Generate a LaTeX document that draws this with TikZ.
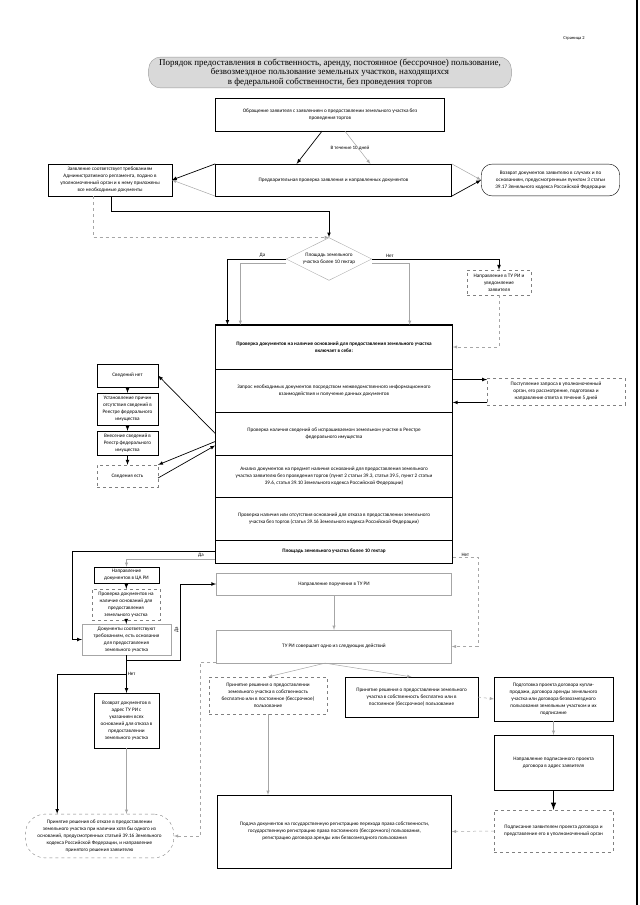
\documentclass[tikz,border=0pt]{standalone}
\usepackage{fontspec}
\setmainfont{Carlito}
\newfontfamily\titlefont{Liberation Serif}
\usetikzlibrary{shapes.geometric}

\begin{document}
\begin{tikzpicture}[x=1bp, y=-1bp,
		box/.style={draw, align=center, inner sep=1pt, font=\fontsize{5.2}{7}\selectfont},
		gbox/.style={box, draw=gray!70},
		dbox/.style={box, draw=gray, dashed},
		arr/.style={-latex, line width=.7pt},
		garr/.style={-latex, gray!70, line width=.5pt},
		lbl/.style={font=\fontsize{5}{6}\selectfont, inner sep=1pt, text=black}]
	\useasboundingbox (0,0) rectangle (640,905);
	\draw[line width=1.2pt] (637,0)--(637,905);
	\node[font=\fontsize{4.5}{5}\selectfont] (page) at (574,38) {Страница 2};
	\node[draw=gray!80, fill=gray!30, rounded corners=12, minimum width=364, minimum height=31, align=center, inner sep=1pt, font=\titlefont\fontsize{9}{9.3}\selectfont] (title) at (330,72.5) {Порядок предоставления в собственность, аренду, постоянное (бессрочное) пользование,\\безвозмездное пользование земельных участков, находящихся\\в федеральной собственности, без проведения торгов};
	% top
	\node[box, minimum width=230, minimum height=33] (appl) at (330,114.5) {Обращение заявителя с заявлением о предоставлении земельного участка без\\проведения торгов};
	\node[box, minimum width=237, minimum height=32] (prev) at (333.5,180) {Предварительная проверка заявления и направленных документов};
	\node[box, minimum width=124, minimum height=32] (ok) at (110,180) {Заявление соответствует требованиям\\Административного регламента, подано в\\уполномоченный орган и к нему приложены\\все необходимые документы};
	\node[box, rounded corners=11, minimum width=139, minimum height=32] (ret) at (550.5,180) {Возврат документов заявителю в случаях и по\\основаниям, предусмотренным пунктом 3 статьи\\39.17 Земельного кодекса Российской Федерации};
	\node[lbl] (days) at (350,148) {В течение 10 дней};
	\node[box, draw=gray!70, shape=diamond, aspect=2, minimum width=86, minimum height=43, inner sep=0pt] (area) at (329,259) {Площадь земельного\\участка более 10 гектар};
	\node[dbox, minimum width=64, minimum height=25] (tu) at (499,282.5) {Направление в ТУ РИ и\\уведомление\\заявителя};
	% check block
	\node[box, minimum width=238, minimum height=44, font=\bfseries\fontsize{5.2}{7}\selectfont] (g1) at (334,347) {Проверка документов на наличие оснований для предоставления земельного участка\\включает в себя:};
	\node[box, minimum width=238, minimum height=43] (g2) at (334,390.5) {Запрос необходимых документов посредством межведомственного информационного\\взаимодействия и получение данных документов};
	\node[box, minimum width=238, minimum height=43] (g3) at (334,433.5) {Проверка наличия сведений об испрашиваемом земельном участке в Реестре\\федерального имущества};
	\node[box, minimum width=238, minimum height=42] (g4) at (334,476) {Анализ документов на предмет наличия оснований для предоставления земельного\\участка заявителю без проведения торгов (пункт 2 статьи 39.3, статья 39.5, пункт 2 статьи\\39.6, статья 39.10 Земельного кодекса Российской Федерации)};
	\node[box, minimum width=238, minimum height=43] (g5) at (334,518.5) {Проверка наличия или отсутствия оснований для отказа в предоставлении земельного\\участка без торгов (статья 39.16 Земельного кодекса Российской Федерации)};
	\node[box, minimum width=238, minimum height=23, font=\bfseries\fontsize{5.2}{7}\selectfont] (g6) at (334,551.5) {Площадь земельного участка более 10 гектар};
	\draw[line width=1pt] (g1.north west) rectangle (g6.south east);
	\node[dbox, minimum width=138, minimum height=27] (req) at (556,391.5) {Поступление запроса в уполномоченный\\орган, его рассмотрение, подготовка и\\направление ответа в течение 5 дней};
	\node[box, minimum width=61, minimum height=23] (none) at (127.5,375.5) {Сведений нет};
	\node[box, minimum width=61, minimum height=32] (cause) at (127.5,409) {Установление причин\\отсутствия сведений в\\Реестре федерального\\имущества};
	\node[box, minimum width=61, minimum height=24] (enter) at (127.5,443) {Внесение сведений в\\Реестр федерального\\имущества};
	\node[dbox, minimum width=61, minimum height=22] (have) at (127.5,476) {Сведения есть};
	% lower left
	\node[box, minimum width=65, minimum height=16] (toca) at (126.5,575) {Направление\\документов в ЦА РИ};
	\node[dbox, minimum width=68, minimum height=31] (check) at (126,604.5) {Проверка документов на\\наличие оснований для\\предоставления\\земельного участка};
	\node[box, draw=gray!70, minimum width=89, minimum height=31] (fits) at (126.5,639.5) {Документы соответствуют\\требованиям, есть основания\\для предоставления\\земельного участка};
	\node[box, minimum width=65, minimum height=55] (back) at (126.5,720.5) {Возврат документов в\\адрес ТУ РИ с\\указанием всех\\оснований для отказа в\\предоставлении\\земельного участка};
	\node[dbox, rounded corners=20, minimum width=149, minimum height=44] (refuse) at (99.5,836) {Принятие решения об отказе в предоставлении\\земельного участка при наличии хотя бы одного из\\оснований, предусмотренных статьей 39.16 Земельного\\кодекса Российской Федерации, и направление\\принятого решения заявителю};
	% lower right
	\node[gbox, minimum width=236, minimum height=22] (order) at (334,584) {Направление поручения в ТУ РИ};
	\node[gbox, minimum width=236, minimum height=33] (acts) at (334,646.5) {ТУ РИ совершает одно из следующих действий};
	\node[dbox, minimum width=118, minimum height=37] (free1) at (268,695.5) {Принятие решения о предоставлении\\земельного участка в собственность\\бесплатно или в постоянное (бессрочное)\\пользование};
	\node[box, minimum width=133, minimum height=40] (free2) at (411.5,697) {Принятие решения о предоставлении земельного\\участка в собственность бесплатно или в\\постоянное (бессрочное) пользование};
	\node[box, minimum width=119, minimum height=44] (draft) at (553.5,699) {Подготовка проекта договора купли-\\продажи, договора аренды земельного\\участка или договора безвозмездного\\пользования земельным участком и их\\подписание};
	\node[box, minimum width=119, minimum height=55] (send) at (553.5,762.5) {Направление подписанного проекта\\договора в адрес заявителя};
	\node[dbox, minimum width=119, minimum height=42] (sign) at (553.5,831) {Подписание заявителем проекта договора и\\представление его в уполномоченный орган};
	\node[box, minimum width=235, minimum height=73] (reg) at (334.5,831.5) {Подача документов на государственную регистрацию перехода права собственности,\\государственную регистрацию права постоянного (бессрочного) пользования,\\регистрацию договора аренды или безвозмездного пользования};
	% connectors
	\draw[arr] ([xshift=-8]appl.south)--([xshift=-37]prev.north);
	\draw[garr] ([xshift=15]appl.south)--([xshift=37]prev.north);
	\draw[arr] (prev.north west)--(ok.east);
	\draw[garr] (prev.south west)--(ok.east);
	\draw[garr] (prev.north east)--(ret.west);
	\draw[arr] (prev.south east)--(ret.west);
	\draw[arr] ([xshift=1]ok.south)--++(0,15)-|(area.north);
	\draw[garr, dashed] ([xshift=-17]ok.south)|-(area.north);
	\draw[arr] (area.west)-|node[pos=.2, above, lbl]{Да}([xshift=-107]g1.north);
	\draw[garr] ([yshift=-4]area.west)-|([xshift=-94]g1.north);
	\draw[arr] (area.east)-|node[pos=.07, above, lbl]{Нет}(tu.north);
	\draw[garr] ([yshift=-4]area.east)-|([xshift=76]g1.north);
	\draw[garr, dashed] (tu.south)|-(g1.east);
	\draw[arr] ([yshift=11]g2.east)--([yshift=12]req.west);
	\draw[arr] ([yshift=-11]req.west)--([yshift=-12]g2.east);
	\draw[arr] (g3.west)--(none.east);
	\draw[arr] ([yshift=-8]g3.west)--(have.north east);
	\draw[arr] ([yshift=-2]have.east)--([yshift=-12]g3.west);
	\draw[arr] (none)--(cause);
	\draw[arr] (cause)--(enter);
	\draw[arr] (enter)--(have);
	\draw[arr] (g6.west)-|node[pos=.05, below, lbl]{Да}([xshift=-10]fits.west)--(fits.west);
	\draw[garr] ([yshift=-8]g6.west)-|(toca.north);
	\draw[arr] (toca)--(check);
	\draw[arr] (check)--(fits);
	\draw[arr] (fits.south)--++(0,5)--++(53.5,0)|-node[pos=.2, above, rotate=90, lbl]{Да}(order.west);
	\draw[arr] (fits.south)--node[pos=.5, right, lbl]{Нет}(back.north);
	\draw[arr] ([yshift=-19]fits.south)-|([xshift=-42.5]refuse.north);
	\draw[garr] (back.south)--(back.south|-refuse.north);
	\draw[garr, dashed] ([yshift=-6]g6.east)--node[above, lbl]{Нет}++(25,0)|-(acts.east);
	\draw[garr] (order.south)--(acts.north);
	\draw[garr, dashed] ([yshift=-16]acts.west)--++(-16,0)|-(refuse.east);
	\draw[garr] ([xshift=-9]acts.south)--(free1.north);
	\draw[garr] ([xshift=-9]acts.south)--(free2.north);
	\draw[garr, dashed] (free2.east)--(draft.west);
	\draw[garr] (draft.south)--(send.north);
	\draw[arr, line width=1.5pt] (send.south)--(sign.north);
	\draw[garr, dashed] (sign.west)--(reg.east);
	\draw[garr] (free1.south)--(free1.south|-reg.north);
\end{tikzpicture}
\end{document}
